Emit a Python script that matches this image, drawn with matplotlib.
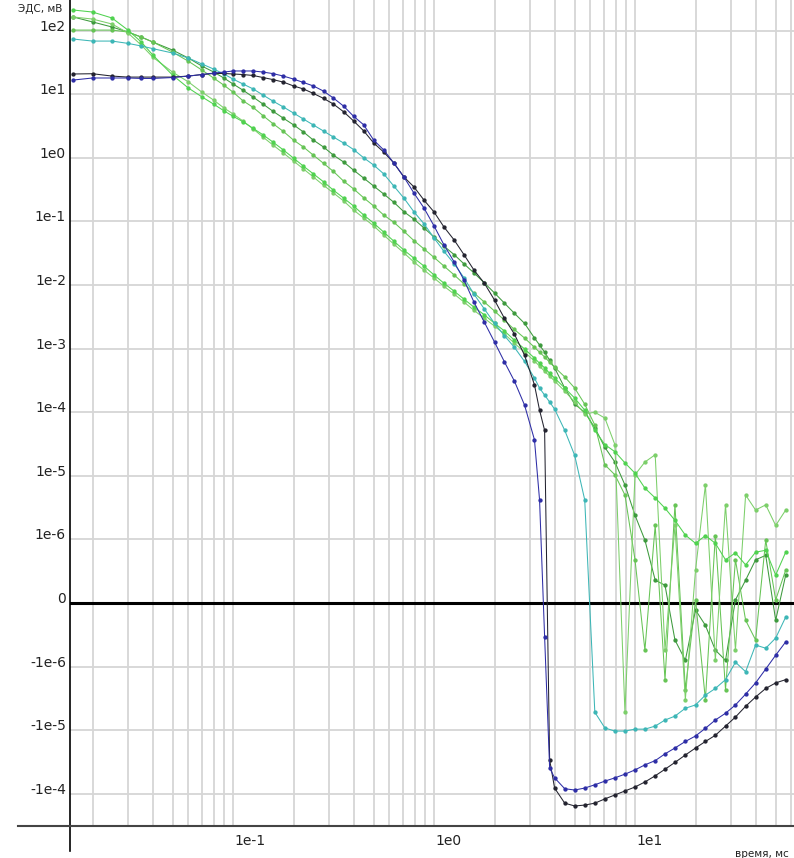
import matplotlib
matplotlib.use("Agg")
import matplotlib.pyplot as plt
from matplotlib.transforms import ScaledTranslation
from matplotlib.ticker import LogLocator, NullLocator

# время, мс (общие временные окна)
t = [0.016, 0.02, 0.025, 0.03, 0.035, 0.04, 0.05, 0.06, 0.07, 0.08, 0.09,
     0.1, 0.112, 0.126, 0.141, 0.158, 0.178, 0.2, 0.224, 0.251, 0.282,
     0.316, 0.355, 0.398, 0.447, 0.501, 0.562, 0.631, 0.708, 0.794, 0.891,
     1.0, 1.12, 1.26, 1.41, 1.58, 1.78, 2.0, 2.24, 2.51, 2.82,
     3.16,
     3.35, 3.55, 3.76, 3.98,
     4.47, 5.01, 5.62, 6.31, 7.08, 7.94, 8.91,
     10.0, 11.2, 12.6, 14.1, 15.8, 17.8, 20.0, 22.4, 25.1, 28.2,
     31.6, 35.5, 39.8, 44.7, 50.1, 56.2]

# ЭДС, мВ
blue = [16.7, 18.0, 18.0, 18.0, 17.7, 17.7, 18.3, 19.3, 20.4, 21.5, 22.3,
        23.2, 23.2, 23.2, 22.3, 21.1, 19.3, 17.3, 15.3, 13.5, 11.2,
        8.7, 6.5, 4.5, 3.3, 1.9, 1.33, 0.83, 0.50, 0.28, 0.163,
        0.085, 0.043, 0.023, 0.012, 0.0054, 0.0026, 1.27e-3, 6.2e-4, 3.1e-4, 1.3e-4,
        3.7e-5,
        4.2e-6, -5.3e-7, -3.9e-5, -5.6e-5,
        -8.3e-5, -8.7e-5, -8.1e-5, -7.2e-5, -6.3e-5, -5.6e-5, -4.9e-5,
        -4.2e-5, -3.5e-5, -3.0e-5, -2.35e-5, -1.9e-5, -1.5e-5, -1.23e-5, -9.3e-6, -6.9e-6, -5.4e-6,
        -4.0e-6, -2.7e-6, -1.8e-6, -1.09e-6, -8.2e-7, -6.1e-7]

black = [20.8, 21.0, 19.3, 18.6, 18.6, 18.6, 18.6, 19.3, 20.4, 21.2, 21.2,
         20.8, 20.4, 19.7, 18.3, 17.0, 15.5, 13.5, 12.1, 10.3, 8.6,
         7.0, 5.3, 3.8, 2.65, 1.71, 1.23, 0.83, 0.50, 0.35, 0.217,
         0.141, 0.082, 0.051, 0.030, 0.0172, 0.0107, 5.8e-3, 3.0e-3, 1.7e-3, 7.9e-4,
         2.7e-4,
         1.08e-4, 5.2e-5, -2.9e-5, -8.1e-5,
         -1.40e-4, -1.55e-4, -1.5e-4, -1.4e-4, -1.2e-4, -1.04e-4, -9.0e-5,
         -7.8e-5, -6.5e-5, -5.2e-5, -4.1e-5, -3.2e-5, -2.45e-5, -1.9e-5, -1.5e-5, -1.2e-5, -8.6e-6,
         -6.2e-6, -4.2e-6, -3.0e-6, -2.2e-6, -1.8e-6, -1.6e-6]

cyan = [73.8, 68.5, 68.5, 63.0, 57.3, 52.0, 44.5, 37.0, 29.9, 24.9, 20.8,
        17.3, 14.5, 12.1, 9.7, 7.8, 6.3, 5.06, 4.07, 3.28, 2.64,
        2.12, 1.71, 1.35, 1.0, 0.77, 0.56, 0.36, 0.233, 0.142, 0.092,
        0.055, 0.034, 0.0215, 0.013, 7.2e-3, 4.2e-3, 2.5e-3, 1.6e-3, 1.05e-3, 6.3e-4,
        3.45e-4,
        2.4e-4, 1.86e-4, 1.45e-4, 1.12e-4,
        5.2e-5, 2.1e-5, 4.2e-6, -5.2e-6, -9.2e-6, -1.03e-5, -1.03e-5,
        -9.6e-6, -9.6e-6, -8.6e-6, -6.9e-6, -6.0e-6, -4.5e-6, -4.0e-6, -2.8e-6, -2.2e-6, -1.6e-6,
        -9.3e-7, -1.2e-6, -6.6e-7, -7.1e-7, -5.5e-7, -2.2e-7]

green1 = [211, 196, 158, 102, 66, 41, 20, 12.5, 9.1, 7.0, 5.5,
          4.5, 3.7, 2.9, 2.3, 1.77, 1.33, 0.99, 0.74, 0.56, 0.42,
          0.31, 0.233, 0.175, 0.126, 0.094, 0.068, 0.049, 0.0355, 0.0265, 0.0199,
          0.0144, 0.0107, 8.0e-3, 6.0e-3, 4.5e-3, 3.4e-3, 2.5e-3, 1.9e-3, 1.36e-3, 9.9e-4,
          7.1e-4,
          5.9e-4, 5.0e-4, 4.1e-4, 3.45e-4,
          2.4e-4, 1.67e-4, 1.08e-4, 5.2e-5, 3.1e-5, 2.4e-5, 1.6e-5,
          1.1e-5, 6.4e-6, 4.5e-6, 3.1e-6, 2.0e-6, 1.17e-6, 9.4e-7, 1.15e-6, 9.4e-7, 6.8e-7,
          7.9e-7, 6.0e-7, 8.0e-7, 8.3e-7, 4.4e-7, 8.0e-7]

green2 = [164, 152, 127, 92, 59, 38, 22.3, 15.6, 10.8, 8.1, 6.1,
          4.9, 3.8, 2.84, 2.12, 1.59, 1.19, 0.89, 0.67, 0.50, 0.37,
          0.28, 0.21, 0.151, 0.113, 0.085, 0.061, 0.044, 0.032, 0.023, 0.0172,
          0.0129, 9.6e-3, 7.2e-3, 5.4e-3, 4.0e-3, 3.0e-3, 2.26e-3, 1.7e-3, 1.22e-3, 8.8e-4,
          6.4e-4,
          5.3e-4, 4.4e-4, 3.7e-4, 3.1e-4,
          2.15e-4, 1.45e-4, 9.4e-5, 1.0e-4, 8.1e-5, 3.1e-5, -5.2e-6,
          1.04e-5, 1.65e-5, 2.15e-5, -7.4e-7, 1.66e-6, -3.3e-6, 5.2e-7, 7.2e-6, -9.0e-7, 3.5e-6,
          -7.4e-7, 5.0e-6, 2.9e-6, 3.5e-6, 1.66e-6, 2.9e-6]

green3 = [164, 137, 114, 95, 79, 66, 49.5, 37, 27.7, 22.4, 18,
          14.5, 11.6, 9.0, 7.0, 5.4, 4.2, 3.3, 2.55, 1.9, 1.48,
          1.1, 0.86, 0.64, 0.48, 0.36, 0.27, 0.20, 0.142, 0.109, 0.079,
          0.057, 0.041, 0.030, 0.0215, 0.0155, 0.0108, 7.5e-3, 5.2e-3, 3.6e-3, 2.5e-3,
          1.47e-3,
          1.14e-3, 8.8e-4, 6.6e-4, 5.0e-4,
          2.4e-4, 1.34e-4, 1.0e-4, 5.7e-5, 2.8e-5, 1.65e-5, 7.2e-6,
          2.4e-6, 9.9e-7, 3.6e-7, 2.8e-7, -5.8e-7, -9.0e-7, -1.1e-7, -3.5e-7, -7.4e-7, -9.0e-7,
          5e-8, 3.6e-7, 6.8e-7, 7.5e-7, -2.7e-7, 4.4e-7]

green4 = [102, 102, 102, 95, 79, 66, 46, 33, 24, 18, 13.9,
          10.8, 7.9, 6.2, 4.6, 3.45, 2.6, 1.9, 1.48, 1.1, 0.82,
          0.61, 0.43, 0.325, 0.235, 0.175, 0.126, 0.097, 0.07, 0.05, 0.037,
          0.0272, 0.0199, 0.0144, 0.0104, 7.5e-3, 5.4e-3, 3.9e-3, 2.8e-3, 2.0e-3, 1.47e-3,
          1.05e-3,
          8.8e-4, 7.4e-4, 6.1e-4, 5.1e-4,
          3.6e-4, 2.4e-4, 1.34e-4, 6.3e-5, 1.49e-5, 1.04e-5, 5.0e-6,
          6.8e-7, -7.4e-7, 1.66e-6, -1.62e-6, 3.5e-6, -2.3e-6, 5e-8, -3.3e-6, 1.15e-6, -2.3e-6,
          6.8e-7, -2.7e-7, -5.8e-7, 9.9e-7, 5e-8, 5.2e-7]

yticks = [1e2, 1e1, 1e0, 1e-1, 1e-2, 1e-3, 1e-4, 1e-5, 1e-6, 0, -1e-6, -1e-5, -1e-4]
ylabels = ["1e2", "1e1", "1e0", "1e-1", "1e-2", "1e-3", "1e-4", "1e-5", "1e-6",
           "0", "-1e-6", "-1e-5", "-1e-4"]
xticks = [0.1, 1.0, 10.0]
xlabels = ["1e-1", "1e0", "1e1"]

fig = plt.figure(figsize=(7.94, 8.58), dpi=100)
ax = fig.add_axes([70 / 794, 32 / 858, 724 / 794, 826 / 858])

ax.set_xscale("log")
ax.set_yscale("symlog", linthresh=1e-6, linscale=0.9)
ax.set_xlim(0.01545, 61.8)
ax.set_ylim(-3.2e-4, 303)

ax.xaxis.set_major_locator(LogLocator(base=10))
ax.xaxis.set_minor_locator(LogLocator(base=10, subs=range(2, 10)))
ax.set_yticks(yticks)
ax.yaxis.set_minor_locator(NullLocator())
ax.tick_params(which="both", length=0, labelleft=False, labelbottom=False)
ax.grid(True, which="both", axis="x", color="#d6d6d6", lw=1.3)
ax.grid(True, which="major", axis="y", color="#d6d6d6", lw=1.3)
ax.set_axisbelow(True)
for s in ax.spines.values():
    s.set_visible(False)

ax.axhline(0, color="black", lw=2.2, zorder=2)

series = [
    (green3, "#3d9a3d"),
    (green4, "#66c455"),
    (green2, "#7ccf6a"),
    (green1, "#4fd24f"),
    (cyan, "#3cb6b6"),
    (black, "#23232f"),
    (blue, "#2d2da6"),
]
for vals, col in series:
    ax.plot(t, vals, color=col, lw=0.75, marker="o", ms=2.1, mec=col, mfc=col, zorder=3)

# оси
ax.plot([0, 0], [1, -0.03], transform=ax.transAxes, color="black", lw=1.2, clip_on=False, zorder=4)
ax.plot([-0.072, 1], [0, 0], transform=ax.transAxes, color="#444444", lw=1.5, clip_on=False, zorder=4)

px = fig.dpi_scale_trans
ylab_tr = ax.get_yaxis_transform() + ScaledTranslation(-4 / 100, 4 / 100, px)
for v, lab in zip(yticks, ylabels):
    ax.text(0, v, lab, transform=ylab_tr, ha="right", va="center", fontsize=10, color="#222222")
xlab_tr = ax.get_xaxis_transform() + ScaledTranslation(1 / 100, -15 / 100, px)
for v, lab in zip(xticks, xlabels):
    ax.text(v, 0, lab, transform=xlab_tr, ha="left", va="center", fontsize=10, color="#222222")

fig.text(18 / 794, 1 - 9 / 858, "ЭДС, мВ", fontsize=7.5, ha="left", va="center", color="#222222")
fig.text(735 / 794, 1 - 854 / 858, "время, мс", fontsize=7.5, ha="left", va="center", color="#222222")

fig.savefig("out.png", dpi=100)
